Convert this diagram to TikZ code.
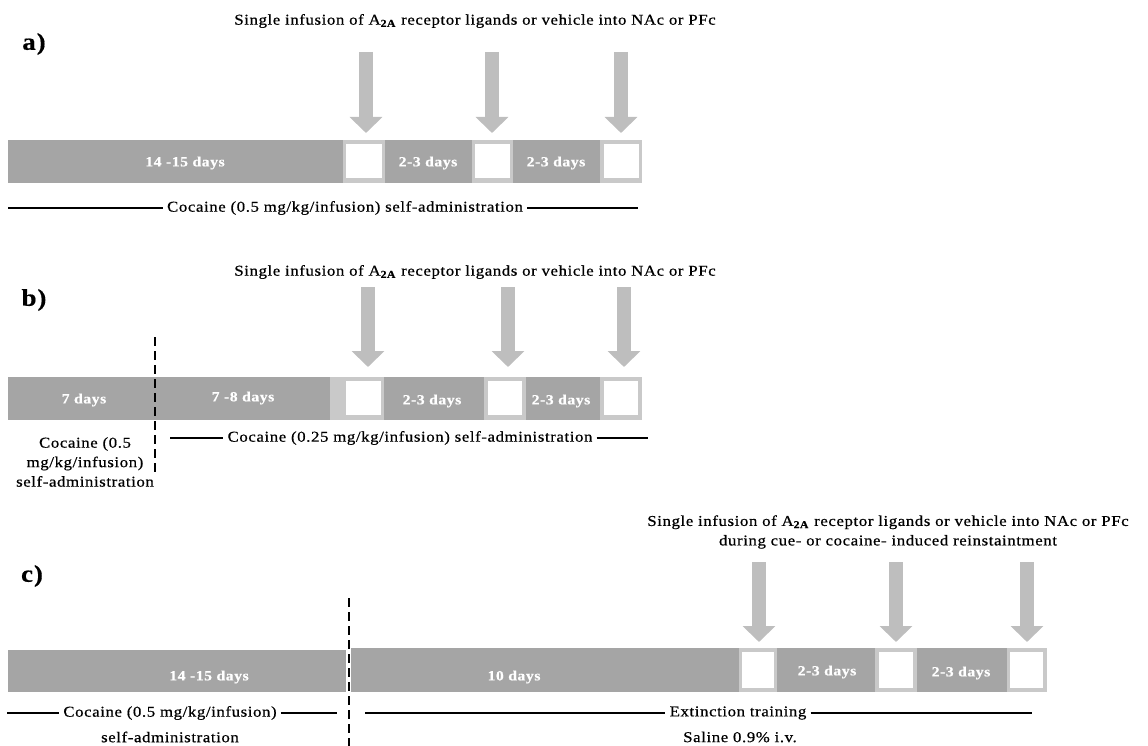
\documentclass[tikz,border=0pt]{standalone}
\usepackage{fontspec}
\setmainfont[FakeStretch=1.12,LetterSpace=4,FakeBold=0.6]{Liberation Serif}
\usetikzlibrary{arrows.meta}
\definecolor{bargray}{HTML}{A5A5A5}
\definecolor{boxgray}{HTML}{C9C9C9}
\definecolor{arrowgray}{HTML}{BEBEBE}
\begin{document}
\begin{tikzpicture}[x=1pt,y=-1pt,
  seg/.style={fill=bargray,draw=none,inner sep=0,outer sep=0,anchor=north west},
  dbox/.style={fill=boxgray,draw=none,inner sep=0,outer sep=0,anchor=north west},
  dwhite/.style={fill=white,draw=none,inner sep=0,anchor=north west},
  daylbl/.style={text=white,font=\fontsize{14}{16}\selectfont\bfseries,inner sep=0},
  txt/.style={font=\fontsize{15}{19.5}\selectfont,inner ysep=1pt,inner xsep=4pt},
  panel/.style={font=\fontsize{24}{26}\selectfont\bfseries,inner sep=0},
  bigarrow/.style={draw=arrowgray,line width=14pt,-{Triangle[width=32pt,length=16pt]}},
  rule/.style={line width=1.5pt,black},
  divider/.style={line width=2.2pt,dash pattern=on 9pt off 5pt}
]
\useasboundingbox (0,0) rectangle (1148,746);
% ---------------- panel a
\node[panel] (pa) at (34,44) {a)};
\node[txt] (ta) at (475,21) {Single infusion of A\textsubscript{\textbf{2A}} receptor ligands or vehicle into NAc or PFc};
\node[seg,minimum width=335,minimum height=43] (a0) at (8,140) {};
\node[dbox,minimum width=42,minimum height=43] (a1) at (343,140) {};
\node[seg,minimum width=87,minimum height=43] (a2) at (385,140) {};
\node[dbox,minimum width=41,minimum height=43] (a3) at (472,140) {};
\node[seg,minimum width=87,minimum height=43] (a4) at (513,140) {};
\node[dbox,minimum width=42,minimum height=43] (a5) at (600,140) {};
\node[dwhite,minimum width=36,minimum height=34] (a1w) at (346,144) {};
\node[dwhite,minimum width=35,minimum height=34] (a3w) at (475,144) {};
\node[dwhite,minimum width=35,minimum height=34] (a5w) at (604,144) {};
\node[daylbl] (la0) at (185,163) {14 -15 days};
\node[daylbl] (la2) at (428,163) {2-3 days};
\node[daylbl] (la4) at (556,163) {2-3 days};
\coordinate (aar1) at (366,52);
\coordinate (aar2) at (492,52);
\coordinate (aar3) at (621,52);
\draw[bigarrow,shorten >=7pt] (aar1) -- (aar1 |- a1.north);
\draw[bigarrow,shorten >=7pt] (aar2) -- (aar2 |- a3.north);
\draw[bigarrow,shorten >=7pt] (aar3) -- (aar3 |- a5.north);
\node[txt] (ca) at (345,208) {Cocaine (0.5 mg/kg/infusion) self-administration};
\coordinate (cal) at (8,208);
\coordinate (car) at (638,208);
\draw[rule] (cal) -- (ca.west);
\draw[rule] (ca.east) -- (car);
% ---------------- panel b
\node[panel] (pb) at (34,300) {b)};
\node[txt] (tb) at (475,272) {Single infusion of A\textsubscript{\textbf{2A}} receptor ligands or vehicle into NAc or PFc};
\node[seg,minimum width=147,minimum height=43] (b0) at (8,377) {};
\node[seg,minimum width=175,minimum height=43] (b1) at (155,377) {};
\node[dbox,minimum width=54,minimum height=43] (b2) at (330,377) {};
\node[seg,minimum width=100,minimum height=43] (b3) at (384,377) {};
\node[dbox,minimum width=42,minimum height=43] (b4) at (484,377) {};
\node[seg,minimum width=74,minimum height=43] (b5) at (526,377) {};
\node[dbox,minimum width=42,minimum height=43] (b6) at (600,377) {};
\node[dwhite,minimum width=35,minimum height=34] (b2w) at (346,381) {};
\node[dwhite,minimum width=34,minimum height=34] (b4w) at (488,381) {};
\node[dwhite,minimum width=34,minimum height=34] (b6w) at (604,381) {};
\node[daylbl] (lb0) at (84,400) {7 days};
\node[daylbl] (lb1) at (243,398) {7 -8 days};
\node[daylbl] (lb3) at (432,401) {2-3 days};
\node[daylbl] (lb5) at (561,401) {2-3 days};
\coordinate (bar1) at (368,287);
\coordinate (bar2) at (508,287);
\coordinate (bar3) at (624,287);
\draw[bigarrow,shorten >=10pt] (bar1) -- (bar1 |- b2.north);
\draw[bigarrow,shorten >=10pt] (bar2) -- (bar2 |- b4.north);
\draw[bigarrow,shorten >=10pt] (bar3) -- (bar3 |- b6.north);
\coordinate (db1) at (155,337);
\coordinate (db2) at (155,472);
\draw[divider] (db1) -- (db2);
\node[txt] (cb) at (410,438) {Cocaine (0.25 mg/kg/infusion) self-administration};
\coordinate (cbl) at (170,438);
\coordinate (cbr) at (648,438);
\draw[rule] (cbl) -- (cb.west);
\draw[rule] (cb.east) -- (cbr);
\node[txt,align=center] (cb0) at (85,462) {Cocaine (0.5\\mg/kg/infusion)\\self-administration};
% ---------------- panel c
\node[panel] (pc) at (32,576) {c)};
\node[txt,align=center] (tc) at (888,532) {Single infusion of A\textsubscript{\textbf{2A}} receptor ligands or vehicle into NAc or PFc\\during cue- or cocaine- induced reinstaintment};
\node[seg,minimum width=338,minimum height=42] (c0) at (8,650) {};
\node[seg,minimum width=388,minimum height=44] (c1) at (351,648) {};
\node[dbox,minimum width=38,minimum height=44] (c2) at (739,648) {};
\node[seg,minimum width=98,minimum height=44] (c3) at (777,648) {};
\node[dbox,minimum width=42,minimum height=44] (c4) at (875,648) {};
\node[seg,minimum width=90,minimum height=44] (c5) at (917,648) {};
\node[dbox,minimum width=40,minimum height=44] (c6) at (1007,648) {};
\node[dwhite,minimum width=32,minimum height=36] (c2w) at (742,652) {};
\node[dwhite,minimum width=34,minimum height=36] (c4w) at (879,652) {};
\node[dwhite,minimum width=33,minimum height=36] (c6w) at (1010,652) {};
\node[daylbl] (lc0) at (209,677) {14 -15 days};
\node[daylbl] (lc1) at (514,677) {10 days};
\node[daylbl] (lc3) at (827,672) {2-3 days};
\node[daylbl] (lc5) at (961,673) {2-3 days};
\coordinate (car1) at (759,562);
\coordinate (car2) at (896,562);
\coordinate (car3) at (1027,562);
\draw[bigarrow,shorten >=6pt] (car1) -- (car1 |- c2.north);
\draw[bigarrow,shorten >=6pt] (car2) -- (car2 |- c4.north);
\draw[bigarrow,shorten >=6pt] (car3) -- (car3 |- c6.north);
\coordinate (dc1) at (349,598);
\coordinate (dc2) at (349,746);
\draw[divider] (dc1) -- (dc2);
\node[txt] (cc) at (170,713) {Cocaine (0.5 mg/kg/infusion)};
\coordinate (ccl) at (7,713);
\coordinate (ccr) at (337,713);
\draw[rule] (ccl) -- (cc.west);
\draw[rule] (cc.east) -- (ccr);
\node[txt] (cc2) at (170,737) {self-administration};
\node[txt] (ec) at (738,713) {Extinction training};
\coordinate (ecl) at (365,713);
\coordinate (ecr) at (1032,713);
\draw[rule] (ecl) -- (ec.west);
\draw[rule] (ec.east) -- (ecr);
\node[txt] (sc) at (740,737) {Saline 0.9\% i.v.};
\end{tikzpicture}
\end{document}
